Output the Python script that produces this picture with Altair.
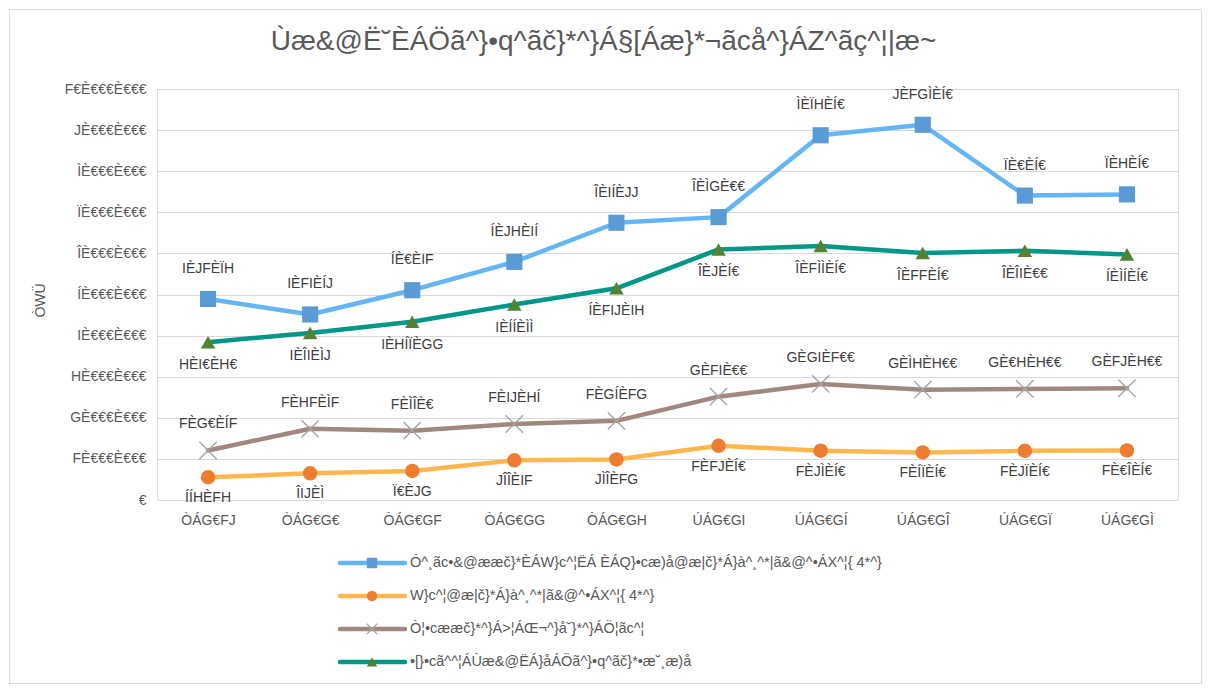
import altair as alt
import pandas as pd

FONT = "Liberation Sans Narrow, Liberation Sans, Arial, sans-serif"

title_text = "Ùæ&@Ë˘ÈÁÖã^}•q^ãč}*^}Á§[Áæ}*¬ãcå^}ÁZ^ãç^¦|æ~"
y_title = "ÒWÜ"

categories = ["ÒÁG€FJ", "ÒÁG€G€", "ÒÁG€GF", "ÒÁG€GG", "ÒÁG€GH",
              "ÚÁG€GI", "ÚÁG€GÍ", "ÚÁG€GÎ", "ÚÁG€GÏ", "ÚÁG€GÌ"]

series_names = [
    "Ó^¸ãc•&@ææč}*ÈÁW}c^¦ËÁ ÈÁQ}•cæ)å@æ|č}*Á}à^¸^*|ã&@^•ÁX^¦{ 4*^}",
    "W}c^¦@æ|č}*Á}à^¸^*|ã&@^•ÁX^¦{ 4*^}",
    "Ò¦•cææč}*^}Á>¦ÁŒ¬^}å˘}*^}ÁÖ¦ãc^¦",
    "•[}•cã^^¦ÁÙæ&@ËÁ}åÁÖã^}•q^ãč}*•æ˘¸æ)å",
]

blue_vals = [4891873, 4514459, 5104841, 5793845, 6745899, 6882600, 8873850, 9128850, 7405850, 7435850]
orange_vals = [553813, 649883, 705892, 966541, 986812, 1319850, 1198850, 1157850, 1197850, 1206850]
gray_vals = [1205051, 1731881, 1686057, 1849835, 1925812, 2514000, 2824100, 2683300, 2703300, 2719300]
green_vals = [3840030, 4064889, 4335722, 4755888, 5149843, 6095850, 6180850, 6011850, 6064000, 5975850]

blue_labels = ["IÈJFÈÏH", "IÈFIÈÍJ", "ÍÈ€ÈIF", "ÍÈJHÈIÍ", "ÎÈIÍÈJJ",
               "ÎÈÌGÈ€€", "ÌÈÏHÈÍ€", "JÈFGÌÈÍ€", "ÏÈ€ÈÍ€", "ÏÈHÈÍ€"]
orange_labels = ["ÍÍHÈFH", "ÎIJÈÌ", "Ï€ÈJG", "JÎÎÈIF", "JÌÎÈFG",
                 "FÈFJÈÍ€", "FÈJÌÈÍ€", "FÈÍÏÈÍ€", "FÈJÏÈÍ€", "FÈ€ÎÈÍ€"]
gray_labels = ["FÈG€ÈÍF", "FÈHFÈÌF", "FÈÌÎÈ€", "FÈIJÈHÍ", "FÈGÍÈFG",
               "GÈFIÈ€€", "GÈGIÈF€€", "GÈÌHÈH€€", "GÈ€HÈH€€", "GÈFJÈH€€"]
green_labels = ["HÈI€ÈH€", "IÈÎIÈÌJ", "IÈHÍÏÈGG", "IÈÍÍÈÌÌ", "ÍÈFIJÈIH",
                "ÎÈJÈÍ€", "ÎÈFÌÌÈÍ€", "ÎÈFFÈÍ€", "ÎÈÎIÈ€€", "ÍÈÌÍÈÍ€"]

y_tick_values = [0, 1000000, 2000000, 3000000, 4000000, 5000000,
                 6000000, 7000000, 8000000, 9000000, 10000000]
y_tick_labels = ["€", "FÈ€€€È€€€", "GÈ€€€È€€€", "HÈ€€€È€€€", "IÈ€€€È€€€",
                 "ÍÈ€€€È€€€", "ÎÈ€€€È€€€", "ÏÈ€€€È€€€", "ÌÈ€€€È€€€",
                 "JÈ€€€È€€€", "F€È€€€È€€€"]

line_colors = ["#64b5f6", "#ffb74d", "#a1887f", "#009688"]
marker_colors = ["#5b9bd5", "#ed7d31", "#a5a5a5", "#548235"]
marker_shapes = ["square", "circle", "M-1,-1L1,1M-1,1L1,-1", "triangle-up"]
marker_sizes = [260, 210, 300, 210]
label_dy = [-30, 21, -26, 23]

W, H = 1021, 411
PAD_L, PAD_T, PAD_R, PAD_B = 149, 81, 25, 185

all_vals = [blue_vals, orange_vals, gray_vals, green_vals]
all_labels = [blue_labels, orange_labels, gray_labels, green_labels]
rows = []
for sid, (vals, labs) in enumerate(zip(all_vals, all_labels)):
    for cat, v, lab in zip(categories, vals, labs):
        rows.append({"cat": cat, "value": v, "label": lab, "sid": sid})
df = pd.DataFrame(rows)

# label expression for y ticks
expr = "''"
for v, lab in zip(reversed(y_tick_values), reversed(y_tick_labels)):
    expr = f"datum.value == {v} ? '{lab}' : ({expr})"

x_enc = alt.X("cat:O", sort=categories,
              scale=alt.Scale(type="point", padding=0.5),
              axis=alt.Axis(title=None, labelAngle=0, ticks=False, domain=True,
                            domainColor="#d9d9d9", labelColor="#595959",
                            labelFontSize=14, labelFont=FONT, labelPadding=13,
                            grid=False))
y_enc = alt.Y("value:Q",
              scale=alt.Scale(domain=[0, 10000000], nice=False, zero=True),
              axis=alt.Axis(values=y_tick_values, labelExpr=expr, title=y_title,
                            titleX=-117, titleY=211, titleFont=FONT,
                            titleFontSize=14, titleFontWeight="normal",
                            titleColor="#595959", titleAngle=-90,
                            titleAlign="center", titleBaseline="middle",
                            grid=True, gridColor="#d9d9d9", gridWidth=1,
                            domain=False, ticks=False, labelPadding=11,
                            labelColor="#595959", labelFontSize=14,
                            labelFont=FONT))

base = alt.Chart(df)
layers = []

border = alt.Chart(pd.DataFrame({"k": [0]})).mark_rect(
    fill="white", fillOpacity=0, stroke="#d9d9d9", strokeWidth=1
).encode(
    x=alt.value(-PAD_L + 1.5), x2=alt.value(W + PAD_R - 1.5),
    y=alt.value(-PAD_T + 1.5), y2=alt.value(H + PAD_B - 1.5),
)
layers.append(border)

# chart title drawn as a text mark, centred on the whole chart
layers.append(alt.Chart(pd.DataFrame({"t": [title_text]})).mark_text(
    fontSize=28, font=FONT, color="#595959", align="center", baseline="middle"
).encode(x=alt.value((W + PAD_L + PAD_R) / 2 - PAD_L - 2), y=alt.value(-47),
         text="t:N"))

for sid in range(4):
    line = base.transform_filter(alt.datum.sid == sid).mark_line(
        strokeWidth=4.5, color=line_colors[sid], strokeCap="round", strokeJoin="round"
    ).encode(x=x_enc, y=y_enc)
    layers.append(line)

for sid in range(4):
    if sid == 2:
        mk = base.transform_filter(alt.datum.sid == sid).mark_point(
            shape=marker_shapes[sid], filled=False, stroke=marker_colors[sid],
            strokeWidth=1.4, size=marker_sizes[sid], opacity=1)
    else:
        mk = base.transform_filter(alt.datum.sid == sid).mark_point(
            shape=marker_shapes[sid], filled=True, color=marker_colors[sid],
            size=marker_sizes[sid], opacity=1)
    layers.append(mk.encode(x=x_enc, y=y_enc))

for sid in range(4):
    txt = base.transform_filter(alt.datum.sid == sid).mark_text(
        dy=label_dy[sid], fontSize=14, font=FONT, color="#404040",
        align="center", baseline="middle"
    ).encode(x=x_enc, y=y_enc, text="label:N")
    layers.append(txt)

# legend (below plot)
leg_x0, leg_x1, leg_mid, leg_tx = 183, 248, 215, 253
leg_y0, leg_step = 474, 33
for i, name in enumerate(series_names):
    ly = leg_y0 + i * leg_step
    ldf = pd.DataFrame({"label": [name]})
    layers.append(alt.Chart(ldf).mark_rule(
        strokeWidth=4.5, color=line_colors[i], strokeCap="round"
    ).encode(x=alt.value(leg_x0), x2=alt.value(leg_x1), y=alt.value(ly)))
    if i == 2:
        pm = alt.Chart(ldf).mark_point(shape=marker_shapes[i], filled=False,
                                       stroke=marker_colors[i], strokeWidth=1.2,
                                       size=110, opacity=1)
    else:
        pm = alt.Chart(ldf).mark_point(shape=marker_shapes[i], filled=True,
                                       color=marker_colors[i], size=110, opacity=1)
    layers.append(pm.encode(x=alt.value(leg_mid), y=alt.value(ly)))
    layers.append(alt.Chart(ldf).mark_text(
        align="left", baseline="middle", fontSize=14.5, font=FONT, color="#595959"
    ).encode(x=alt.value(leg_tx), y=alt.value(ly), text="label:N"))

chart = alt.layer(*layers).properties(
    width=W, height=H,
    autosize=alt.AutoSizeParams(type="none"),
    padding={"left": PAD_L, "top": PAD_T, "right": PAD_R, "bottom": PAD_B},
).configure_view(stroke=None).configure(background="white")

chart.save("out.html", embed_options={"renderer": "svg", "actions": False})
